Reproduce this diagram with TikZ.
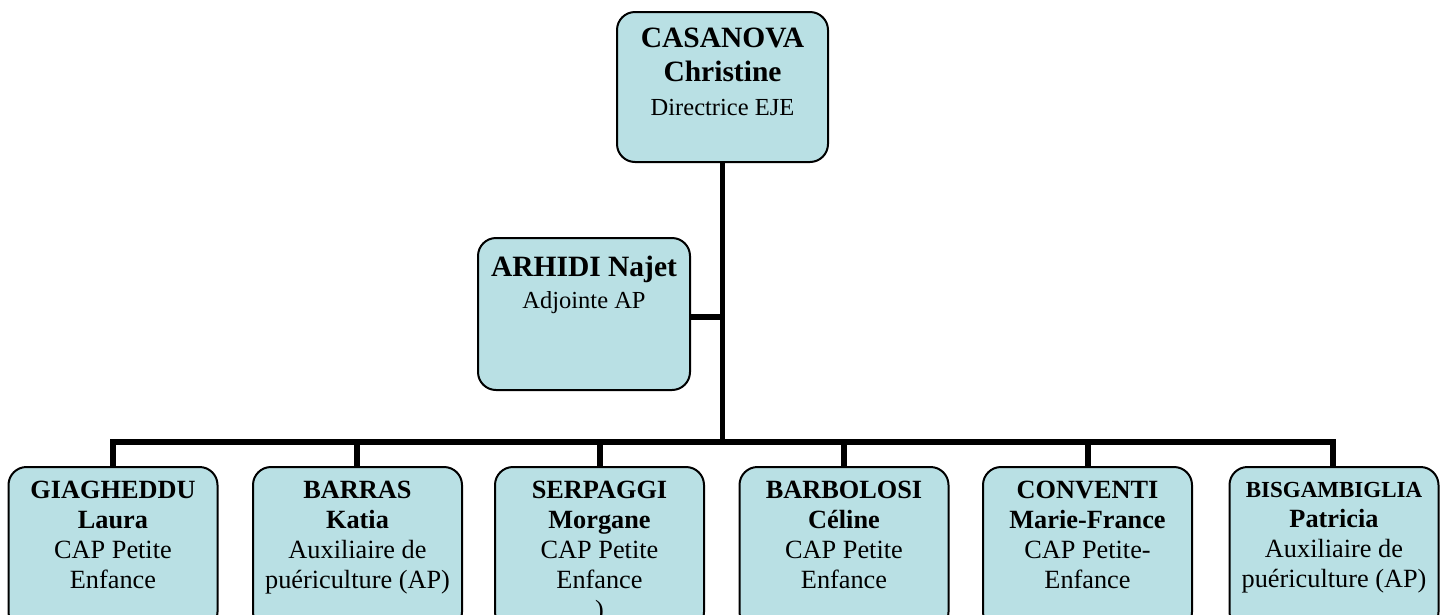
\documentclass[tikz,border=0pt]{standalone}
\usepackage{fontspec}
\setmainfont{Liberation Serif}
\usetikzlibrary{positioning}
\definecolor{staffblue}{RGB}{185,224,228}

\begin{document}
\begin{tikzpicture}[x=1pt,y=-1pt,every node/.style={align=center},
staff/.style={draw=black,line width=2pt,fill=staffblue,rounded corners=18pt,inner sep=0pt,minimum width=209pt,minimum height=163pt},
boss/.style={staff,minimum width=211pt,minimum height=150pt},
deputy/.style={staff,minimum width=212pt,minimum height=152pt},
txt/.style={inner sep=0pt,font=\fontsize{26.3}{30}\selectfont},
toptxt/.style={inner sep=0pt,font=\fontsize{24.5}{32}\selectfont},
link/.style={line width=5.5pt}
]
\clip (0,0) rectangle (1444,614);
\fill[white] (0,0) rectangle (1444,614);
\coordinate (hub) at (722.5,442);
\coordinate (trunk) at (722.5,162);
% links first, boxes on top
\draw[link] (trunk) -- (hub);
\draw[link] (hub) -| (113,467);
\draw[link] (hub) -| (357,467);
\draw[link] (hub) -| (600,467);
\draw[link] (hub) -| (844,467);
\draw[link] (hub) -| (1088,467);
\draw[link] (hub) -| (1333,467);
\draw[link] (690,317) -- (hub |- 0,317);
% top
\node[boss] (casanova) at (722.5,87) {};
\node[toptxt,below=17pt of casanova.north] (casanova-t) {\fontsize{29.5}{33}\selectfont\bfseries CASANOVA\\[2pt]\fontsize{29.5}{33}\selectfont\bfseries Christine\\[2pt]Directrice EJE}; % <- end casanova
% deputy
\node[deputy] (arhidi) at (584,314) {};
\node[toptxt,below=19pt of arhidi.north] (arhidi-t) {\fontsize{29.5}{30}\selectfont\bfseries ARHIDI Najet\\Adjointe AP}; % <- end arhidi
% team
\node[staff] (giagheddu) at (113,548.5) {};
\node[txt,below=14.5pt of giagheddu.north] (giagheddu-t) {\textbf{GIAGHEDDU}\\\textbf{Laura}\\CAP Petite\\Enfance};
\node[staff] (barras) at (357.5,548.5) {};
\node[txt,below=14.5pt of barras.north] (barras-t) {\textbf{BARRAS}\\\textbf{Katia}\\Auxiliaire de\\puériculture (AP)};
\node[staff] (serpaggi) at (599.5,548.5) {};
\node[txt,below=14.5pt of serpaggi.north] (serpaggi-t) {\textbf{SERPAGGI}\\\textbf{Morgane}\\CAP Petite\\Enfance\\)};
\node[staff] (barbolosi) at (844,548.5) {};
\node[txt,below=14.5pt of barbolosi.north] (barbolosi-t) {\textbf{BARBOLOSI}\\\textbf{Céline}\\CAP Petite\\Enfance};
\node[staff] (conventi) at (1087.5,548.5) {};
\node[txt,below=14.5pt of conventi.north] (conventi-t) {\textbf{CONVENTI}\\\textbf{Marie-France}\\CAP Petite-\\Enfance};
\node[staff] (bisgambiglia) at (1334,548.5) {};
\node[txt,below=16pt of bisgambiglia.north] (bisgambiglia-t) {\fontsize{23}{27}\selectfont\bfseries BISGAMBIGLIA\\\textbf{Patricia}\\Auxiliaire de\\puériculture (AP)}; % <- end team
\end{tikzpicture}
\end{document}
